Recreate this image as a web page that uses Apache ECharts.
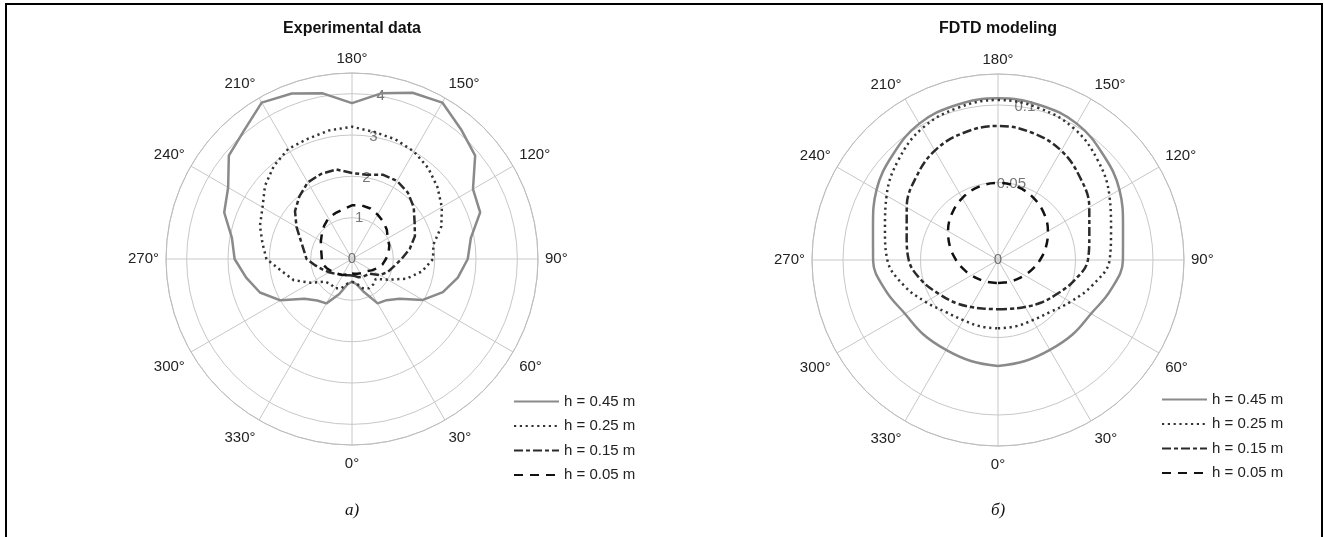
<!DOCTYPE html>
<html><head><meta charset="utf-8">
<script src="https://cdn.jsdelivr.net/npm/echarts@6/dist/echarts.min.js"></script>
<style>
html,body{margin:0;padding:0;background:#fff;}
#wrap{position:relative;width:1324px;height:537px;overflow:hidden;}
#chart{position:absolute;left:0;top:0;width:1324px;height:537px;}
#frame{position:absolute;left:5px;top:3px;width:1314px;height:560px;border-top:2px solid #000;border-left:2px solid #000;border-right:2px solid #000;pointer-events:none;}
</style></head>
<body><div id="wrap"><div id="chart"></div><div id="frame"></div></div>
<script>
// ---- data ----
const seriesNames = ['h = 0.45 m', 'h = 0.25 m', 'h = 0.15 m', 'h = 0.05 m'];

const expAngles = [0,10,20,30,40,50,60,70,80,90,100,110,120,130,140,150,160,170,180,190,200,210,220,230,240,250,260,270,280,290,300,310,320,330,340,350];
const exp045 = [0.55,0.62,0.85,1.24,1.30,1.50,1.98,2.34,2.60,2.80,2.92,3.30,3.38,3.89,4.10,4.37,4.28,4.07,3.77,4.07,4.26,4.37,4.06,3.89,3.46,3.29,2.95,2.84,2.60,2.37,2.00,1.50,1.31,1.24,0.90,0.62];
const exp025 = [0.55,0.60,0.75,0.82,0.80,0.75,1.00,1.40,1.72,1.96,2.00,2.30,2.51,2.70,2.87,3.00,3.08,3.12,3.20,3.16,3.10,3.08,2.94,2.75,2.50,2.37,2.20,2.07,1.72,1.50,1.15,0.85,0.80,0.82,0.75,0.60];
const exp015 = [0.40,0.42,0.47,0.50,0.52,0.55,0.78,0.92,1.03,1.20,1.42,1.62,1.75,1.95,2.10,2.18,2.17,2.07,2.08,2.20,2.19,2.14,1.98,1.80,1.55,1.32,1.18,1.10,0.90,0.75,0.64,0.55,0.48,0.44,0.42,0.40];
const exp005 = [0.35,0.36,0.38,0.40,0.43,0.46,0.55,0.65,0.75,0.82,0.90,0.96,1.00,1.10,1.18,1.24,1.30,1.32,1.30,1.22,1.18,1.14,1.05,0.95,0.87,0.80,0.75,0.73,0.72,0.65,0.58,0.52,0.48,0.45,0.40,0.37];

const fdtdAngles = [0,15,30,45,60,75,90,105,120,135,150,165,180,195,210,225,240,255,270,285,300,315,330,345];
const fdtd045 = [0.0684,0.0675,0.0670,0.0680,0.0693,0.0752,0.0806,0.0835,0.0905,0.0960,0.1016,0.1035,0.1043,0.1035,0.1016,0.0960,0.0905,0.0835,0.0806,0.0752,0.0693,0.0680,0.0670,0.0675];
const fdtd025 = [0.0441,0.0443,0.0448,0.0475,0.0540,0.0630,0.0720,0.0755,0.0830,0.0910,0.0980,0.1015,0.1032,0.1015,0.0980,0.0910,0.0830,0.0755,0.0714,0.0630,0.0540,0.0475,0.0448,0.0443];
const fdtd015 = [0.0318,0.0325,0.0350,0.0390,0.0439,0.0510,0.0580,0.0610,0.0680,0.0750,0.0815,0.0850,0.0865,0.0850,0.0815,0.0750,0.0680,0.0610,0.0576,0.0510,0.0439,0.0390,0.0350,0.0325];
const fdtd005 = [0.0148,0.0151,0.0160,0.0175,0.0198,0.0230,0.0271,0.0320,0.0372,0.0421,0.0461,0.0488,0.0497,0.0488,0.0461,0.0421,0.0372,0.0320,0.0271,0.0230,0.0198,0.0175,0.0160,0.0151];

const expTicks = [0,1,2,3,4];
const expTickLabels = ['0','1','2','3','4'];
const fdtdTicks = [0,0.05,0.1];
const fdtdTickLabels = ['0','0.05','0.1'];

// ---- styles ----
const FONT = '"Liberation Sans", Arial, sans-serif';
const LABEL_ANGLE = 170;
const lineStyles = [
  {color:'#8a8a8a', width:2.5, type:'solid'},
  {color:'#333333', width:2.5, type:[2.2,3.6], cap:'butt'},
  {color:'#2a2a2a', width:2.5, type:[9,3,4,3]},
  {color:'#111111', width:2.5, type:[9,7]}
];

function closed(vals, angs){
  const d = vals.map((v,i)=>[v, angs[i]]);
  d.push([vals[0], 360]);
  return d;
}

const chart = echarts.init(document.getElementById('chart'), null, {renderer:'canvas'});

function angleAxis(idx){
  return {
    polarIndex: idx, type:'value', min:0, max:360, interval:30,
    startAngle:270, clockwise:false,
    axisLine:{show:true, lineStyle:{color:'#bdbdbd', width:1}},
    axisTick:{show:false},
    axisLabel:{margin:7, padding:[4,0,0,0], formatter:'{value}°', color:'#222', fontSize:15, fontFamily:FONT},
    splitLine:{show:true, lineStyle:{color:'#c8c8c8', width:1}}
  };
}
function radiusAxis(idx, max, interval){
  return {
    polarIndex: idx, type:'value', min:0, max:max, interval:interval,
    axisLine:{show:false}, axisTick:{show:false}, axisLabel:{show:false},
    splitLine:{show:true, lineStyle:{color:'#c8c8c8', width:1}}
  };
}

const series = [];
const expSets = [exp045, exp025, exp015, exp005];
const fdtdSets = [fdtd045, fdtd025, fdtd015, fdtd005];
expSets.forEach((vals,i)=>{
  series.push({
    name: seriesNames[i], type:'line', coordinateSystem:'polar', polarIndex:0,
    data: closed(vals, expAngles), symbol:'none', smooth:false, z:3,
    lineStyle: lineStyles[i], itemStyle:{color: lineStyles[i].color}, animation:false
  });
});
fdtdSets.forEach((vals,i)=>{
  series.push({
    name: seriesNames[i], type:'line', coordinateSystem:'polar', polarIndex:1,
    data: closed(vals, fdtdAngles), symbol:'none', smooth:0.4, z:3,
    lineStyle: lineStyles[i], itemStyle:{color: lineStyles[i].color}, animation:false
  });
});
function tickLabelSeries(idx, ticks, labels){
  return {
    type:'scatter', coordinateSystem:'polar', polarIndex:idx, z:2, silent:true,
    symbolSize:1, itemStyle:{color:'rgba(0,0,0,0)'}, animation:false,
    data: ticks.map((t,i)=>({value:[t, LABEL_ANGLE], name:labels[i]})),
    label:{show:true, position:'inside', formatter:p=>p.name, color:'#555', fontSize:15, fontFamily:FONT}
  };
}
series.push(tickLabelSeries(0, expTicks, expTickLabels));
series.push(tickLabelSeries(1, fdtdTicks, fdtdTickLabels));

function legend(left, top){
  return {
    data: seriesNames, orient:'vertical', left:left, top:top, padding:0,
    itemWidth:45, itemHeight:14, itemGap:9.5, selectedMode:false,
    itemStyle:{opacity:0},
    textStyle:{fontSize:15, color:'#222', fontFamily:FONT}
  };
}

chart.setOption({
  animation:false,
  backgroundColor:'#fff',
  title:[
    {text:'Experimental data', left:352, top:21, textAlign:'center', padding:0,
     textStyle:{fontSize:16, fontWeight:'bold', color:'#111', fontFamily:FONT}},
    {text:'FDTD modeling', left:998, top:21, textAlign:'center', padding:0,
     textStyle:{fontSize:16, fontWeight:'bold', color:'#111', fontFamily:FONT}},
    {text:'а)', left:352, top:502, textAlign:'center', padding:0,
     textStyle:{fontSize:17, fontWeight:'normal', fontStyle:'italic', color:'#111', fontFamily:'"Liberation Serif", "Times New Roman", serif'}},
    {text:'б)', left:998, top:502, textAlign:'center', padding:0,
     textStyle:{fontSize:17, fontWeight:'normal', fontStyle:'italic', color:'#111', fontFamily:'"Liberation Serif", "Times New Roman", serif'}}
  ],
  legend:[legend(513, 394), legend(1161, 392)],
  polar:[
    {center:[352,259], radius:186},
    {center:[998,260], radius:186}
  ],
  angleAxis:[angleAxis(0), angleAxis(1)],
  radiusAxis:[radiusAxis(0, 4.5, 1), radiusAxis(1, 0.12, 0.05)],
  series: series
});
</script>
</body></html>
